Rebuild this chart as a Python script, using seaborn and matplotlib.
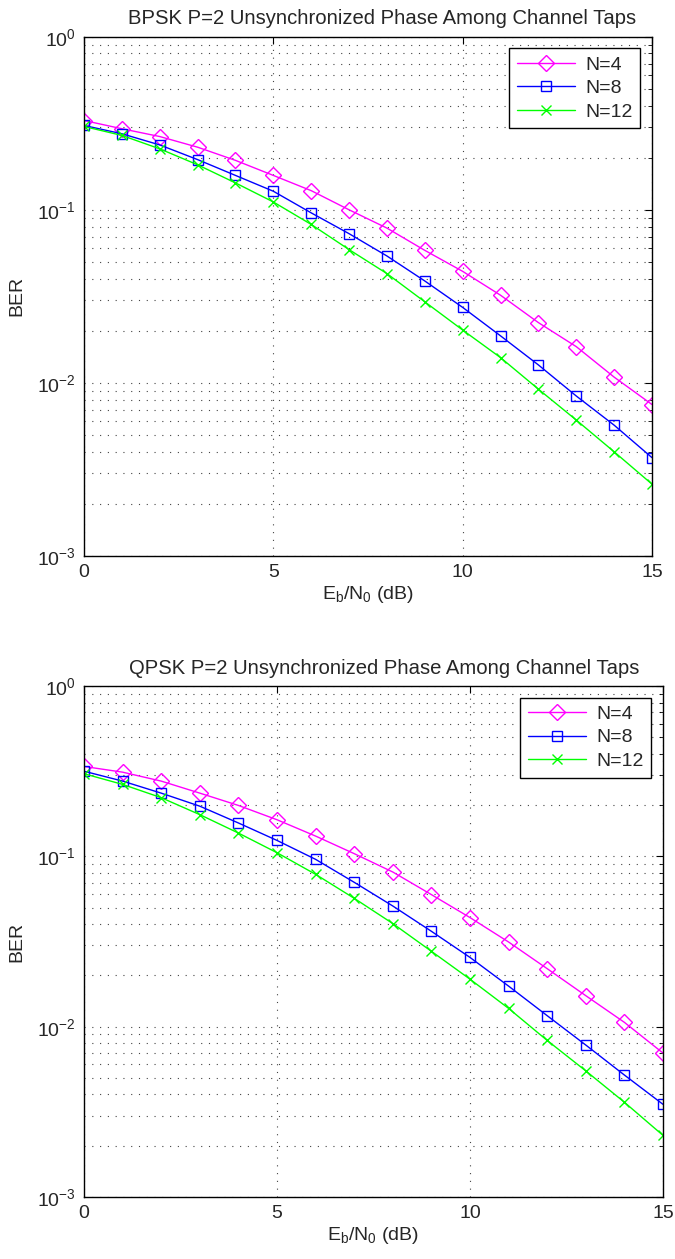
import numpy as np
import pandas as pd
import matplotlib
matplotlib.use("Agg")
import matplotlib.pyplot as plt
import seaborn as sns
from matplotlib.ticker import LogLocator, LogFormatterMathtext, NullFormatter

# ---------------- data ----------------
ebn0 = [0, 1, 2, 3, 4, 5, 6, 7, 8, 9, 10, 11, 12, 13, 14, 15]

bpsk_n4 = [0.328, 0.294, 0.265, 0.230, 0.193, 0.158, 0.129, 0.100, 0.0784, 0.0583,
           0.0441, 0.0321, 0.0223, 0.0162, 0.0108, 0.0075]
bpsk_n8 = [0.307, 0.275, 0.237, 0.195, 0.158, 0.128, 0.096, 0.0728, 0.0541, 0.0388,
           0.0273, 0.0187, 0.0127, 0.0084, 0.0057, 0.0037]
bpsk_n12 = [0.303, 0.269, 0.225, 0.182, 0.143, 0.111, 0.0823, 0.0589, 0.0428, 0.0294,
            0.0202, 0.0140, 0.0092, 0.0061, 0.0040, 0.0026]

qpsk_n4 = [0.337, 0.312, 0.2765, 0.235, 0.199, 0.164, 0.1315, 0.1037, 0.0809, 0.0596,
           0.0437, 0.0314, 0.0219, 0.0152, 0.0106, 0.0070]
qpsk_n8 = [0.316, 0.2765, 0.235, 0.197, 0.157, 0.124, 0.096, 0.0704, 0.0511, 0.0363,
           0.0255, 0.0173, 0.0116, 0.0078, 0.0052, 0.0035]
qpsk_n12 = [0.3055, 0.2644, 0.221, 0.1757, 0.137, 0.105, 0.0784, 0.0567, 0.0403, 0.0277,
            0.0190, 0.0128, 0.0083, 0.0055, 0.0036, 0.0023]

series_labels = ["N=4", "N=8", "N=12"]
titles = ["BPSK P=2 Unsynchronized Phase Among Channel Taps",
          "QPSK P=2 Unsynchronized Phase Among Channel Taps"]
x_ticks = [0, 5, 10, 15]
x_label = r"$\mathregular{E_b/N_0}$ (dB)"
y_label = "BER"

# ---------------- style ----------------
sns.set_style("white")
plt.rcParams["font.family"] = ["Liberation Sans", "DejaVu Sans"]
plt.rcParams["mathtext.fontset"] = "custom"
plt.rcParams["mathtext.rm"] = "Liberation Sans"
plt.rcParams["mathtext.it"] = "Liberation Sans"
plt.rcParams["mathtext.default"] = "regular"

colors = ["#ff00ff", "#0000ff", "#00ff00"]
markers = ["D", "s", "x"]
msizes = [8, 7, 6.5]

fig = plt.figure(figsize=(6.75, 12.59), dpi=100)
W, H = 675, 1259
boxes = [(84, 652, 36.7, 556), (84, 663, 686, 1197)]
title_x = [0.524, 0.518]

datasets = [[bpsk_n4, bpsk_n8, bpsk_n12], [qpsk_n4, qpsk_n8, qpsk_n12]]

grid_ls = (0, (1, 6))
for i, (box, data) in enumerate(zip(boxes, datasets)):
    l, r, t, b = box
    ax = fig.add_axes([l / W, 1 - b / H, (r - l) / W, (b - t) / H])
    for ys, lab, c, m, ms in zip(data, series_labels, colors, markers, msizes):
        df = pd.DataFrame({"x": ebn0, "y": ys})
        sns.lineplot(data=df, x="x", y="y", ax=ax, color=c, marker=m,
                     markersize=ms, markerfacecolor="none", markeredgecolor=c,
                     markeredgewidth=1.0, linewidth=1.0, label=lab)
    ax.set_yscale("log")
    ax.set_xlim(0, 15)
    ax.set_ylim(1e-3, 1)
    ax.set_xticks(x_ticks)
    ax.yaxis.set_major_locator(LogLocator(base=10, numticks=10))
    ax.yaxis.set_major_formatter(LogFormatterMathtext())
    ax.yaxis.set_minor_locator(LogLocator(base=10, subs=np.arange(2, 10), numticks=20))
    ax.yaxis.set_minor_formatter(NullFormatter())
    ax.tick_params(axis="both", which="both", direction="in", top=True, right=True,
                   labelsize=14, color="black")
    ax.tick_params(axis="both", which="major", length=5, width=0.8, pad=6)
    ax.tick_params(axis="y", which="minor", length=3, width=0.6)
    ax.grid(True, which="major", axis="both", color="#444444", linestyle=grid_ls, linewidth=0.8)
    ax.grid(True, which="minor", axis="y", color="#444444", linestyle=grid_ls, linewidth=0.8)
    for s in ax.spines.values():
        s.set_color("black")
        s.set_linewidth(1.0)
        s.set_visible(True)
    ax.set_title(titles[i], fontsize=14.6, pad=9, x=title_x[i])
    ax.set_xlabel(x_label, fontsize=14, labelpad=2)
    ax.set_ylabel(y_label, fontsize=14, labelpad=8)
    leg = ax.legend(loc="upper right", fontsize=14, handlelength=3.0, frameon=True,
                    fancybox=False, framealpha=1, edgecolor="black",
                    borderaxespad=0.6, labelspacing=0.3, handletextpad=0.5,
                    borderpad=0.4)
    leg.get_frame().set_linewidth(1.0)

fig.savefig("out.png", dpi=100)
